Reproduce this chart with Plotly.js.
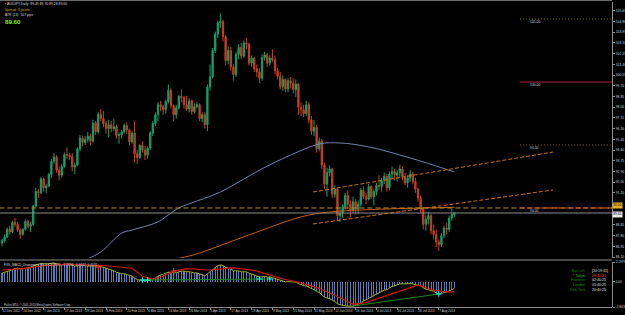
<!DOCTYPE html>
<html><head><meta charset="utf-8">
<script src="https://cdn.plot.ly/plotly-3.0.1.min.js"></script>
<style>html,body{margin:0;padding:0;background:#000;}#chart{width:625px;height:315px;}</style>
</head><body><div id="chart"></div>
<script>
// ---- data ----
const dateLabels = ["12 Dec 2012","24 Dec 2012","7 Jan 2013","17 Jan 2013","29 Jan 2013","8 Feb 2013","20 Feb 2013","4 Mar 2013","14 Mar 2013","26 Mar 2013","5 Apr 2013","17 Apr 2013","29 Apr 2013","9 May 2013","21 May 2013","31 May 2013","12 Jun 2013","24 Jun 2013","4 Jul 2013","16 Jul 2013","26 Jul 2013","7 Aug 2013"];
const barsPerLabel = 8;

const open = [87.20,87.40,87.70,88.30,88.10,88.85,88.70,88.25,87.90,88.30,
88.95,88.55,88.70,90.15,91.30,91.20,92.30,91.60,91.75,92.65,
93.70,94.05,93.00,92.60,93.30,94.25,94.20,94.10,93.25,93.40,
94.70,95.55,95.20,95.45,95.70,95.30,96.75,96.05,97.45,97.10,
96.70,96.30,96.60,96.30,96.45,95.75,95.80,96.05,96.55,96.20,
95.25,95.95,94.30,94.00,94.95,94.60,94.20,94.75,95.95,96.70,
97.40,98.20,98.05,97.80,98.45,99.35,98.10,97.40,97.95,98.85,
98.75,98.20,97.85,98.50,97.65,98.05,98.20,97.10,97.40,96.60,
99.60,100.40,102.50,103.80,104.70,104.80,103.60,101.70,102.50,101.20,
100.60,102.20,102.75,102.05,103.10,103.00,101.50,101.90,101.05,100.80,
100.30,101.95,102.15,101.50,101.90,101.75,100.90,100.45,99.65,100.20,
99.45,100.10,99.90,99.40,99.85,98.00,97.80,97.50,98.20,97.00,
96.10,96.40,94.70,95.30,93.40,91.90,92.80,93.10,91.10,91.50,
89.40,89.60,90.10,91.00,90.30,89.80,90.50,89.90,90.30,91.40,
90.90,90.70,91.70,90.90,91.30,91.80,91.70,92.20,92.50,91.60,
92.70,92.90,92.60,92.80,93.10,92.50,92.00,92.40,92.70,92.10,
91.50,90.80,89.90,88.70,89.10,89.40,88.20,87.90,87.30,87.10,
87.80,88.40,88.30,89.20,89.49];
const high = [87.55,87.90,88.45,88.60,89.00,89.20,88.90,88.40,88.40,89.10,
89.05,88.90,90.25,91.60,91.50,92.45,92.40,91.90,92.80,93.90,
94.35,94.20,93.30,93.50,94.40,94.80,94.40,94.35,93.60,94.80,
95.80,95.75,95.70,96.05,95.90,97.00,96.90,97.60,97.85,97.70,
96.90,97.00,96.90,97.10,96.60,96.00,96.20,96.70,96.80,96.30,
96.10,96.90,94.60,95.10,95.30,94.90,94.90,96.10,96.90,97.60,
98.40,98.50,98.20,98.60,99.80,99.50,98.20,98.20,99.00,99.40,
98.90,98.90,98.70,98.60,98.30,98.40,98.30,97.60,97.60,99.80,
101.40,102.70,104.00,104.90,105.45,104.95,103.70,102.80,102.80,101.40,
102.40,103.00,103.10,103.30,103.50,103.10,102.10,102.00,101.40,101.10,
102.20,102.40,102.30,102.10,102.60,102.10,101.10,100.80,100.50,100.30,
100.30,100.40,100.30,100.20,99.90,98.40,98.20,98.50,98.40,97.30,
97.00,96.60,95.60,95.50,93.60,93.20,93.40,93.20,91.80,91.60,
90.10,90.30,91.20,91.40,90.60,90.90,90.70,90.60,91.60,91.70,
91.20,91.90,91.80,91.50,92.00,92.60,92.40,92.80,92.70,92.90,
93.30,93.10,93.00,93.40,93.30,92.80,92.60,93.00,92.90,92.40,
91.60,91.00,90.10,89.40,89.70,89.50,88.70,88.30,87.50,88.00,
88.60,88.80,89.40,89.95,89.70];
const low = [86.95,87.25,87.60,87.90,88.00,88.50,88.10,87.55,87.80,88.20,
88.40,88.10,88.60,90.05,90.80,91.10,91.30,91.20,91.65,92.40,
93.50,92.80,92.20,92.40,93.20,93.90,93.80,92.90,92.70,93.30,
94.50,94.90,95.00,95.20,95.00,95.20,95.80,95.90,96.90,96.40,
95.90,95.60,96.00,96.10,95.50,95.10,95.50,95.90,95.90,95.00,
95.10,93.60,93.50,93.90,94.40,93.80,93.90,94.60,95.70,96.50,
96.90,97.70,97.40,97.50,98.30,97.90,96.90,97.10,97.80,98.40,
97.90,97.70,97.60,97.40,97.50,97.90,96.90,96.80,96.30,96.10,
99.30,100.30,102.30,103.50,104.30,103.20,101.30,101.40,100.90,100.10,
100.40,101.80,101.80,101.90,102.60,101.30,101.20,100.80,100.40,99.90,
100.10,101.70,101.20,101.30,101.60,100.60,100.20,99.40,99.30,99.20,
99.20,99.50,99.10,98.80,97.40,97.30,97.20,97.30,96.70,95.80,
95.70,94.40,94.50,93.10,91.50,90.90,92.50,90.80,90.80,89.00,
88.90,89.20,89.90,89.90,89.30,89.60,89.50,89.50,90.10,90.70,
90.30,90.60,90.70,90.20,91.00,91.40,91.30,91.90,91.30,91.40,
92.30,92.20,92.10,92.40,92.20,91.80,91.60,92.10,91.90,91.20,
90.50,89.60,88.30,88.20,88.70,87.90,87.50,86.90,86.60,86.90,
87.60,87.90,88.10,89.00,89.28];
const close = [87.40,87.70,88.30,88.10,88.85,88.70,88.25,87.90,88.30,88.95,
88.55,88.70,90.15,91.30,91.20,92.30,91.60,91.75,92.65,93.70,
94.05,93.00,92.60,93.30,94.25,94.20,94.10,93.25,93.40,94.70,
95.55,95.20,95.45,95.70,95.30,96.75,96.05,97.45,97.10,96.70,
96.30,96.60,96.30,96.45,95.75,95.80,96.05,96.55,96.20,95.25,
95.95,94.30,94.00,94.95,94.60,94.20,94.75,95.95,96.70,97.40,
98.20,98.05,97.80,98.45,99.35,98.10,97.40,97.95,98.85,98.75,
98.20,97.85,98.50,97.65,98.05,98.20,97.10,97.40,96.60,99.60,
100.40,102.50,103.80,104.70,104.80,103.60,101.70,102.50,101.20,100.60,
102.20,102.75,102.05,103.10,103.00,101.50,101.90,101.05,100.80,100.30,
101.95,102.15,101.50,101.90,101.75,100.90,100.45,99.65,100.20,99.45,
100.10,99.90,99.40,99.85,98.00,97.80,97.50,98.20,97.00,96.10,
96.40,94.70,95.30,93.40,91.90,92.80,93.10,91.10,91.50,89.40,
89.60,90.10,91.00,90.30,89.80,90.50,89.90,90.30,91.40,90.90,
90.70,91.70,90.90,91.30,91.80,91.70,92.20,92.50,91.60,92.70,
92.90,92.60,92.80,93.10,92.50,92.00,92.40,92.70,92.10,91.50,
90.80,89.90,88.70,89.10,89.40,88.20,87.90,87.30,87.10,87.80,
88.40,88.30,89.20,89.49,89.60];

const priceTicks = [105.65,104.80,103.95,103.10,102.25,101.40,100.55,99.70,98.85,98.00,97.15,96.30,95.45,94.60,93.75,92.90,92.05,91.20,88.65,87.80,86.95,86.10];

// moving averages (read at sparse bars)
const maSlateBars = [24,32,38,46,50,60,65,68,84,99,111,122,130,141,157,174];
const maSlateVals = [85.2,85.87,86.51,88.0,88.25,88.9,89.6,90.0,91.27,93.0,94.2,95.08,95.16,94.85,93.97,92.86];
const maOrangeBars = [60,67,74,95,115,126,145,174];
const maOrangeVals = [85.5,85.95,86.3,87.86,89.29,89.68,89.9,90.05];

// trend channel
const chanBars = [119.6,211.9];
const chanUpper = [91.27,94.44];
const chanLower = [88.73,91.43];

// horizontal levels
const levelVals = [105.00,100.00,95.00,90.00];
const alertLevel = 90.00;
const bidPrice = 89.60;

// indicator
const macd = [0.95,1.05,1.20,1.25,1.40,1.50,1.52,1.45,1.42,1.50,
1.55,1.55,1.75,1.90,1.95,2.05,2.00,1.98,2.00,2.05,
2.08,2.00,1.90,1.88,1.95,1.95,1.93,1.82,1.75,1.78,
1.88,1.85,1.82,1.80,1.72,1.80,1.72,1.75,1.72,1.62,
1.50,1.42,1.30,1.22,1.05,0.95,0.90,0.88,0.80,0.65,
0.62,0.40,0.22,0.18,0.14,0.08,0.10,0.15,0.25,0.40,
0.62,0.72,0.78,0.88,1.05,1.05,0.98,1.00,1.12,1.18,
1.17,1.10,1.12,1.02,0.98,0.98,0.85,0.80,0.65,0.88,
1.12,1.40,1.65,1.80,1.88,1.80,1.62,1.55,1.40,1.22,
1.22,1.20,1.10,1.12,1.10,0.95,0.88,0.75,0.62,0.50,
0.55,0.58,0.52,0.52,0.45,0.35,0.25,0.10,0.05,-0.02,
0.00,-0.02,-0.08,-0.05,-0.22,-0.35,-0.45,-0.50,-0.62,-0.80,
-0.90,-1.10,-1.22,-1.45,-1.75,-1.85,-1.90,-2.10,-2.20,-2.50,
-2.60,-2.70,-2.72,-2.75,-2.78,-2.75,-2.65,-2.55,-2.35,-2.20,
-2.05,-1.85,-1.75,-1.60,-1.40,-1.30,-1.12,-0.95,-0.90,-0.72,
-0.55,-0.48,-0.38,-0.25,-0.25,-0.28,-0.25,-0.20,-0.25,-0.35,
-0.40,-0.48,-0.70,-0.85,-0.90,-0.98,-1.10,-1.28,-1.39,-1.32,
-1.25,-1.16,-1.05,-0.90,-0.74];
const signalBars = [0,8,15,25,40,50,54,58,62,66,71,80,89,97,108,115,122,130,135,140,150,160,166,171,174];
const signalVals = [1.30,1.45,1.75,1.95,1.78,1.50,0.60,0.25,0.60,1.15,1.45,1.30,1.55,1.25,0.30,-0.15,-0.75,-1.80,-2.55,-2.35,-1.35,-0.40,-0.95,-1.16,-1.16];
const divBars1 = [54,102], divVals1 = [0.18,0.29];
const divBars2 = [135,168], divVals2 = [-2.73,-1.39];
const cyanBars = [54,56,99,103,168], cyanVals = [0.18,0.18,0.29,0.29,-1.39];
const redMarkBars = [37,66], redMarkVals = [1.63,1.19];
const indTicks = [2.1979,0,-2.8438];
const indTickText = ["2.1979","0.00","-2.8438"];

const clockLabels = ["Bar Left","* Tokyo","Frankfurt","London","New York"];
const clockTimes = ["[20:19:31]","09:40:25","02:40:25","01:40:25","20:40:25"];

// ---- drawing ----
const idx = close.map((_, i) => i);
const xEnd = 234.6;
const F = "Liberation Sans, Arial, sans-serif";
const traces = [];

traces.push({type:'candlestick', x:idx, open:open, high:high, low:low, close:close,
  increasing:{line:{color:'#12a06c',width:1},fillcolor:'#12a06c'},
  decreasing:{line:{color:'#c8401c',width:1},fillcolor:'#c8401c'},
  whiskerwidth:0, hoverinfo:'skip', xaxis:'x', yaxis:'y', showlegend:false});

traces.push({type:'scatter', mode:'lines', x:maSlateBars, y:maSlateVals, line:{color:'#7384b0',width:1,shape:'spline'}, yaxis:'y', hoverinfo:'skip'});
traces.push({type:'scatter', mode:'lines', x:maOrangeBars, y:maOrangeVals, line:{color:'#c0601a',width:1,shape:'spline'}, yaxis:'y', hoverinfo:'skip'});

// full-width alert & bid lines
traces.push({type:'scatter', mode:'lines', x:[-1,xEnd], y:[alertLevel,alertLevel], line:{color:'#b8902a',width:1,dash:'5px,3px'}, yaxis:'y', hoverinfo:'skip'});
traces.push({type:'scatter', mode:'lines', x:[-1,xEnd], y:[bidPrice,bidPrice], line:{color:'#8c8c8c',width:1}, yaxis:'y', hoverinfo:'skip'});

// channel
traces.push({type:'scatter', mode:'lines', x:chanBars, y:chanUpper, line:{color:'#c8701e',width:1,dash:'4px,2px'}, yaxis:'y', hoverinfo:'skip'});
traces.push({type:'scatter', mode:'lines', x:chanBars, y:chanLower, line:{color:'#c8701e',width:1,dash:'4px,2px'}, yaxis:'y', hoverinfo:'skip'});

// levels
const levelStyles = [
  {color:'#75602a',dash:'1px,2px'},
  {color:'#b01e3c',dash:'solid'},
  {color:'#75602a',dash:'1px,2px'},
  {color:'#e8502a',dash:'5px,2px'}];
levelVals.forEach((v,i)=>{
  traces.push({type:'scatter', mode:'lines', x:[199.2,xEnd], y:[v,v], line:{color:levelStyles[i].color,width:1,dash:levelStyles[i].dash}, yaxis:'y', hoverinfo:'skip'});
});

// indicator
traces.push({type:'bar', x:idx, y:macd, width:0.4, marker:{color:'#5a7cb4',line:{width:0}}, xaxis:'x', yaxis:'y2', hoverinfo:'skip'});
traces.push({type:'scatter', mode:'lines', x:idx, y:macd, line:{color:'#9aac2c',width:1}, yaxis:'y2', hoverinfo:'skip'});
traces.push({type:'scatter', mode:'lines', x:signalBars, y:signalVals, line:{color:'#cc1414',width:1.2}, yaxis:'y2', hoverinfo:'skip'});
traces.push({type:'scatter', mode:'lines', x:divBars1, y:divVals1, line:{color:'#1a8a1a',width:1}, yaxis:'y2', hoverinfo:'skip'});
traces.push({type:'scatter', mode:'lines', x:divBars2, y:divVals2, line:{color:'#1a8a1a',width:1}, yaxis:'y2', hoverinfo:'skip'});
traces.push({type:'scatter', mode:'markers', x:cyanBars, y:cyanVals, marker:{symbol:'cross-thin',size:4,color:'#00ffff',line:{color:'#00ffff',width:1}}, yaxis:'y2', hoverinfo:'skip'});
traces.push({type:'scatter', mode:'markers', x:redMarkBars, y:redMarkVals, marker:{symbol:'cross-thin',size:4,color:'#ff2020',line:{color:'#ff2020',width:1}}, yaxis:'y2', hoverinfo:'skip'});

const H = 315, T = 2, B = 8;
const plotH = H - T - B; // 305
const py = y => (H - B - y) / plotH; // pixel -> paper

const ann = [];
function txt(x, y, text, opts){ ann.push(Object.assign({xref:'paper', yref:'paper', x:x/612, y:py(y), text:text, showarrow:false, xanchor:'left', yanchor:'middle', font:{family:F,size:3.4,color:'#d8d8d8'}}, opts||{})); }
txt(3, 4, "▪ AUDJPY,Daily  89.49 89.70 89.28 89.60");
txt(3, 9.5, "Spread: 3 points", {font:{family:F,size:3.4,color:'#d8a020'}});
txt(3, 14.5, "ATR (24): 107 pips");
txt(3, 21, "<b>89.60</b>", {font:{family:F,size:6.2,color:'#7cfc00'}});
txt(2, 264.5, "FXS_MACD_Divergence_v1.0 (12,26,9)  -0.7496  -1.1627  0.4131", {font:{family:F,size:3.2,color:'#d8d8d8'}});
txt(2, 304.5, "Pollux MT4, © 2001-2013 MetaQuotes Software Corp.", {font:{family:F,size:2.8,color:'#d0d0d0'}});
const rowsY = [271,275.7,280.4,285.1,289.8];
clockLabels.forEach((l,i)=>{
  txt(587, rowsY[i], l, {xanchor:'right', font:{family:F,size:3.6,color: i===1 ? '#20c020' : '#109010'}});
  txt(590, rowsY[i], clockTimes[i], {font:{family:F,size:3.6,color: i===1 ? '#ff5020' : '#e0e0e0'}});
});
levelVals.forEach(v=>{
  ann.push({xref:'x', yref:'y', x:202.3, y:v, yshift:-3, text:v.toFixed(2), showarrow:false, xanchor:'left', yanchor:'middle', font:{family:F,size:3.4,color:'#d0d0d0'}});
});
// axis price boxes
ann.push({xref:'paper', yref:'y', x:1, y:90.2, text:alertLevel.toFixed(2), showarrow:false, xanchor:'left', yanchor:'middle', bgcolor:'#e8b020', borderpad:0.3, font:{family:F,size:3.2,color:'#000'}});
ann.push({xref:'paper', yref:'y', x:1, y:bidPrice-0.08, text:bidPrice.toFixed(2), showarrow:false, xanchor:'left', yanchor:'middle', bgcolor:'#e8e8e8', borderpad:0.3, font:{family:F,size:3.2,color:'#000'}});

const shapes = [
  {type:'line', xref:'paper', yref:'paper', x0:0, x1:1, y0:py(0.5), y1:py(0.5), line:{color:'#6a6a6a',width:1}},
  {type:'line', xref:'paper', yref:'paper', x0:0, x1:1, y0:py(260), y1:py(260), line:{color:'#8a8a8a',width:1}},
  {type:'line', xref:'paper', yref:'paper', x0:0, x1:1, y0:py(307.5), y1:py(307.5), line:{color:'#8a8a8a',width:1}}
];

const layout = {
  width:625, height:315, margin:{l:0,r:13,t:T,b:B},
  paper_bgcolor:'#000', plot_bgcolor:'#000', showlegend:false,
  font:{family:F, color:'#d0d0d0'},
  xaxis:{range:[-0.77,xEnd], anchor:'y2', showgrid:false, zeroline:false, showline:false,
    tickvals: dateLabels.map((_,i)=>i*barsPerLabel), ticktext: dateLabels, tickangle:0,
    ticks:'outside', ticklen:2, tickcolor:'#8a8a8a', ticklabelposition:'outside right', ticklabelstandoff:0,
    tickfont:{family:F,size:3.1,color:'#d0d0d0'}, rangeslider:{visible:false}, fixedrange:true},
  yaxis:{domain:[py(258),1], range:[86.03,106.35], side:'right', showgrid:false, zeroline:false,
    showline:true, linecolor:'#8a8a8a', linewidth:1, tickvals:priceTicks, ticktext:priceTicks.map(v=>v.toFixed(2)),
    ticks:'outside', ticklen:2, tickcolor:'#8a8a8a', tickfont:{family:F,size:3.4,color:'#d0d0d0'}, fixedrange:true},
  yaxis2:{domain:[0,py(262)], range:[-2.8438,2.1979], side:'right', showgrid:false, zeroline:false,
    showline:true, linecolor:'#8a8a8a', linewidth:1, tickvals:indTicks, ticktext:indTickText,
    ticks:'outside', ticklen:2, tickcolor:'#8a8a8a', tickfont:{family:F,size:3.2,color:'#d0d0d0'}, fixedrange:true},
  annotations: ann, shapes: shapes, bargap:0
};
Plotly.newPlot('chart', traces, layout, {staticPlot:true, displayModeBar:false});
</script>
</body></html>
